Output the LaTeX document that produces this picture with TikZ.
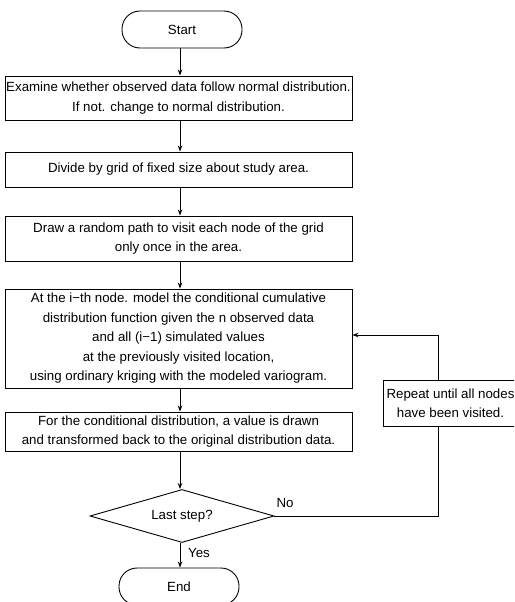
\documentclass[tikz,border=0pt]{standalone}
\usepackage{fontspec}
\setmainfont{Liberation Sans}
\usetikzlibrary{arrows.meta,shapes.geometric}
\begin{document}
\begin{tikzpicture}[x=1pt,y=-1pt,
  every node/.style={font=\fontsize{13.3}{19.5}\selectfont},
  box/.style={draw,line width=0.9pt,minimum width=347pt,align=center,inner sep=0pt},
  term/.style={draw,line width=0.9pt,minimum width=120pt,minimum height=37pt,rounded corners=18pt,inner sep=0pt},
  dec/.style={draw,line width=0.9pt,diamond,aspect=3.47,minimum width=184pt,minimum height=53pt,inner sep=0pt},
  conn/.style={line width=0.9pt,-{Stealth[length=6pt,width=4.5pt]}},
  plain/.style={line width=0.9pt}]
\useasboundingbox (0,0) rectangle (514,602);
\begin{scope}
\clip (0,0) rectangle (514,602);
\node[term] (start) at (182,29.5) {Start};
\node[box,minimum height=44pt] (b1) at (178.5,98) {Examine whether observed data follow normal distribution.\\If not. change to normal distribution.};
\node[box,minimum height=35pt] (b2) at (178.5,169.5) {Divide by grid of fixed size about study area.};
\node[box,minimum height=45pt] (b3) at (178.5,238.5) {Draw a random path to visit each node of the grid\\only once in the area.};
\node[box,minimum height=99pt] (b4) at (178.5,338.5) {At the i−th node. model the conditional cumulative\\distribution function given the n observed data\\and all (i−1) simulated values\\at the previously visited location,\\using ordinary kriging with the modeled variogram.};
\node[box,minimum height=39pt] (b5) at (178.5,431.5) {For the conditional distribution, a value is drawn\\and transformed back to the original distribution data.};
\node[dec] (d) at (182,516) {Last step?};
\node[term] (end) at (179,586.5) {End};
\node[draw,line width=0.9pt,minimum width=135pt,minimum height=46pt,align=center,inner sep=0pt] (rep) at (450.5,403) {Repeat until all nodes\\have been visited.};
\node (no) at (285,503) {No};
\node (yes) at (199,553) {Yes};
\coordinate (lx) at (438,0);
\draw[conn] (start.south -| 180,0) -- (b1.north -| 180,0);
\draw[conn] (b1.south -| 180,0) -- (b2.north -| 180,0);
\draw[conn] (b2.south -| 180,0) -- (b3.north -| 180,0);
\draw[conn] (b3.south -| 180,0) -- (b4.north -| 180,0);
\draw[conn] (b4.south -| 180,0) -- (b5.north -| 180,0);
\draw[conn] (b5.south -| 180,0) -- (d.north -| 180,0);
\draw[conn] (d.south -| 180,0) -- (end.north -| 180,0);
\draw[plain] (d.east) -| (rep.south -| lx);
\draw[conn] (rep.north -| lx) |- (b4.east |- 0,335);
\end{scope}
\end{tikzpicture}
\end{document}
